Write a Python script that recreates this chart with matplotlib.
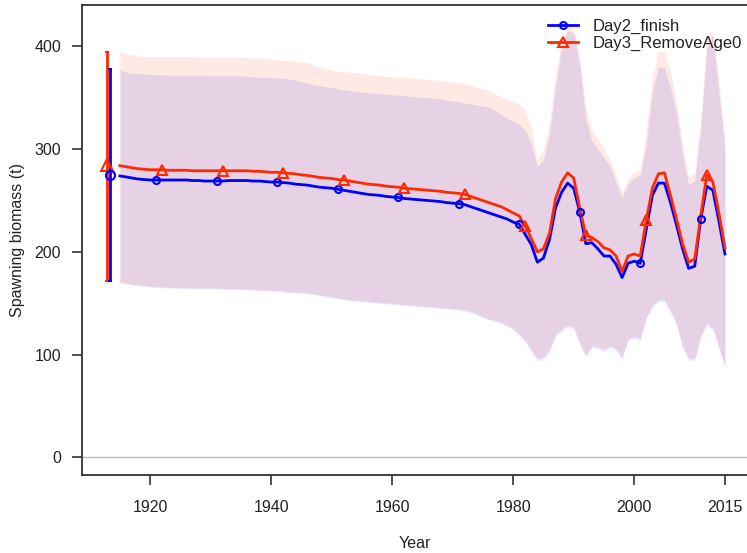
import numpy as np
import matplotlib
matplotlib.use("Agg")
import matplotlib.pyplot as plt
from matplotlib.lines import Line2D

plt.rcParams['font.family'] = ['Liberation Sans', 'DejaVu Sans']

years = np.arange(1915, 2016)

# Day2_finish (blue)
blue_est = [
    274, 273, 272, 271, 270.5, 270, 270, 270, 270, 270,
    270, 270, 269.5, 269.5, 269, 269, 269, 269, 269.5, 269.5,
    269.5, 269.5, 269, 269, 268.5, 268, 268, 267.5, 267, 266,
    265.5, 265, 264, 263, 262.5, 262, 261, 260, 259, 258,
    257, 256, 255.5, 255, 254, 253.5, 253, 252, 251.5, 251,
    250.5, 250, 249.5, 249, 248, 247.5, 247, 246, 244, 242,
    240, 238, 236, 234, 232, 229, 227, 217, 207, 190,
    194, 212, 243, 258, 267, 262, 239, 208, 209, 203,
    196, 196, 188, 175, 189, 191, 189, 222, 255, 267,
    267, 248, 226, 203, 184, 186, 232, 264, 260, 230,
    198]
blue_hi = [
    377, 375, 374, 373.5, 373, 373, 372.5, 372.5, 372, 372,
    372, 372, 372, 372, 371.5, 371.5, 371.5, 371.5, 371.5, 371.5,
    371.5, 371, 370.5, 370, 370, 369.5, 369.5, 369, 368.5, 367,
    366, 364.5, 363, 362, 361, 360, 359, 358, 357, 356,
    355.5, 355, 354.5, 354, 353.5, 353, 352.5, 352, 351.5, 351,
    350.5, 350, 349.5, 349, 348, 347, 346, 345, 344, 343,
    342, 341, 338, 334, 330, 327, 324, 318, 305, 283,
    290, 315, 362, 398, 416, 413, 382, 330, 308, 300,
    292, 283, 268, 253, 266, 272, 275, 305, 355, 380,
    379, 360, 335, 295, 265, 270, 320, 398, 412, 355,
    300]
blue_lo = [
    170, 169, 168, 167, 166.5, 166, 165.5, 165, 165, 164.5,
    164.5, 164.5, 164, 164, 164, 164, 164, 163.5, 163.5, 163.5,
    163.5, 163, 163, 162.5, 162, 162, 161.5, 161, 160.5, 160,
    160, 159.5, 158.5, 157.5, 156.5, 155.5, 154.5, 153.5, 152.5, 152,
    151.5, 151, 150.5, 150, 149.5, 149, 148.5, 148, 147.5, 147,
    146.5, 146, 145.5, 145, 144.5, 144, 143.5, 142.5, 141, 139,
    136, 134, 132, 130.5, 127.5, 124.5, 118.5, 112, 103, 94,
    96, 103, 118, 123, 127, 125, 110, 98, 107, 106,
    103, 107, 104, 96, 114, 116, 114, 135, 146, 152,
    152, 141, 129, 106, 95, 94, 117, 129, 124, 106,
    88]

# Day3_RemoveAge0 (red)
red_est = [
    284, 283, 282, 281, 280.5, 280, 280, 280, 279.5, 279.5,
    279.5, 279.5, 279, 279, 279, 279, 279, 279, 279, 279,
    279, 279, 278.5, 278.5, 278, 277.5, 277.5, 277, 276.5, 276,
    275, 274.5, 273.5, 272.5, 272, 271.5, 270.5, 270, 269, 268,
    267, 266, 265.5, 265, 264, 263.5, 263, 262, 261.5, 261,
    260.5, 260, 259.5, 259, 258, 257.5, 257, 256, 254, 252,
    250, 248, 246, 244, 241, 238, 235, 225, 213, 200,
    203, 218, 252, 268, 277, 272, 243, 216, 214, 210,
    204, 202, 196, 181, 196, 198, 196, 231, 262, 276,
    277, 255, 232, 208, 190, 193, 235, 275, 268, 238,
    204]
red_hi = [
    395, 393, 392, 391, 390, 390, 390, 390, 390, 390,
    390, 390, 390, 390, 389.5, 389.5, 389.5, 389.5, 389.5, 389.5,
    389.5, 389, 389, 388.5, 388, 387.5, 387, 386.5, 386, 385.5,
    385, 384, 382, 380, 378.5, 377, 376, 375.5, 375, 374.5,
    374, 373, 372, 371.5, 371, 370.5, 370, 370, 369.5, 369,
    368.5, 368, 367.5, 367, 366, 365.5, 365, 364, 362, 360,
    359, 357, 354, 351, 348, 346, 344, 338, 320, 290,
    300, 325, 372, 405, 421, 418, 390, 340, 318, 310,
    300, 290, 275, 258, 272, 277, 280, 318, 370, 396,
    395, 375, 345, 305, 272, 278, 330, 410, 415, 365,
    310]
red_lo = [
    171, 170, 169, 168, 167.5, 167, 166.5, 166, 166, 165.5,
    165.5, 165.5, 165, 165, 165, 165, 165, 164.5, 164.5, 164.5,
    164.5, 164, 164, 163.5, 163, 163, 162.5, 162, 161.5, 161,
    161, 160.5, 159.5, 158.5, 157.5, 156.5, 155.5, 154.5, 153.5, 153,
    152.5, 152, 151.5, 151, 150.5, 150, 149.5, 149, 148.5, 148,
    147.5, 147, 146.5, 146, 145.5, 145, 144.5, 143.5, 142, 140,
    137, 135, 133.5, 132, 129, 126, 120, 114, 105, 96,
    98, 105, 120, 125, 129, 127, 112, 100, 109, 108,
    105, 109, 106, 98, 116, 118, 116, 137, 148, 154,
    154, 143, 131, 108, 97, 96, 119, 131, 126, 108,
    90]

# Virgin (unfished) biomass with intervals
virgin_year = 1913
blue_virgin = [275, 172, 378]   # est, lo, hi
red_virgin = [285, 172, 395]

labels = ["Day2_finish", "Day3_RemoveAge0"]
xticks = [1920, 1940, 1960, 1980, 2000, 2015]
yticks = [0, 100, 200, 300, 400]

BLUE = "#0000ff"
RED = "#ff2a00"

W, H = 747, 553
fig = plt.figure(figsize=(W / 100, H / 100), dpi=100)
ax = fig.add_axes([82 / W, 78 / H, (750 - 82) / W, (475 - 5) / H])

ax.axhline(0, color="#bbbbbb", lw=1.0, zorder=1)

ax.fill_between(years, blue_lo, blue_hi, color=BLUE, alpha=0.1, lw=0, zorder=2)
ax.fill_between(years, red_lo, red_hi, color=RED, alpha=0.1, lw=0, zorder=2)

be = np.array(blue_est)
re = np.array(red_est)
ax.plot(years, be, color=BLUE, lw=2.0, zorder=4)
ax.plot(years, re, color=RED, lw=2.0, zorder=5)
bm = (years - 1921) % 10 == 0
rm = (years - 1922) % 10 == 0
ax.plot(years[bm], be[bm], ls="none", marker="o", ms=5, mfc="none", mec=BLUE, mew=1.5, zorder=6)
ax.plot(years[rm], re[rm], ls="none", marker="^", ms=7, mfc="none", mec=RED, mew=1.5, zorder=6)

# virgin points
xr = virgin_year - 0.15
xb = virgin_year + 0.35
ax.errorbar([xr], [red_virgin[0]],
            yerr=[[red_virgin[0] - red_virgin[1]], [red_virgin[2] - red_virgin[0]]],
            color=RED, lw=2.0, capsize=1.5, capthick=1.5, marker="^", ms=8.5, mfc="none",
            mec=RED, mew=1.5, zorder=6)
ax.errorbar([xb], [blue_virgin[0]],
            yerr=[[blue_virgin[0] - blue_virgin[1]], [blue_virgin[2] - blue_virgin[0]]],
            color=BLUE, lw=2.0, capsize=1.5, capthick=1.5, marker="o", ms=6.5, mfc="none",
            mec=BLUE, mew=1.5, zorder=6)

ax.set_xlim(1908.74, 2019.14)
ax.set_ylim(-17.2, 440.4)
ax.set_xticks(xticks)
ax.set_yticks(yticks)
ax.tick_params(axis="both", length=7, width=1.2, color="#333333", labelsize=11.5,
               labelcolor="#222222")
ax.tick_params(axis="x", pad=11)
ax.tick_params(axis="y", pad=8)
for s in ax.spines.values():
    s.set_color("#333333")
    s.set_linewidth(1.3)

ax.set_xlabel("Year", fontsize=11.5, color="#222222", va="center")
ax.xaxis.set_label_coords((415 - 82) / 668, (475 - 543) / 470)
ax.set_ylabel("Spawning biomass (t)", fontsize=11.5, color="#222222", va="center")
ax.yaxis.set_label_coords((18 - 82) / 668, 0.5)

h1 = Line2D([], [], color=BLUE, lw=2.0, marker="o", ms=5, mfc="none", mew=1.5)
h2 = Line2D([], [], color=RED, lw=2.0, marker="^", ms=7, mfc="none", mew=1.5)
leg = ax.legend([h1, h2], labels, loc="upper left", bbox_to_anchor=(548 / W, 1 - 19 / H),
                bbox_transform=fig.transFigure, frameon=False, fontsize=12,
                handlelength=1.8, handletextpad=0.9, labelspacing=0.1,
                borderpad=0, borderaxespad=0)
for t in leg.get_texts():
    t.set_color("#222222")

fig.savefig("out.png", dpi=100)
